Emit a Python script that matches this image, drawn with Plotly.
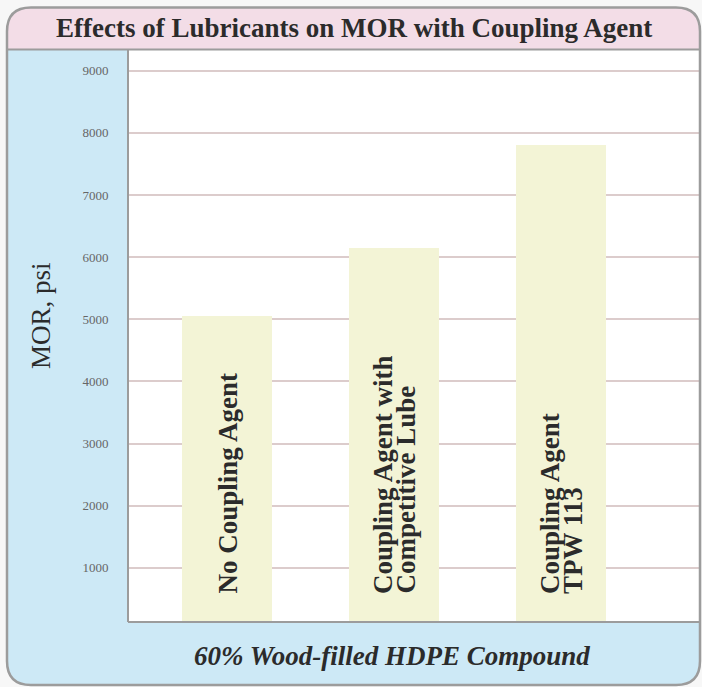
import plotly.graph_objects as go

# ---- data ----
categories = ["No Coupling Agent", "Coupling Agent with Competitive Lube", "Coupling Agent TPW 113"]
label_lines = [["No Coupling Agent"], ["Coupling Agent with", "Competitive Lube"], ["Coupling Agent", "TPW 113"]]
mor_values = [5050, 6150, 7800]
tick_values = [1000, 2000, 3000, 4000, 5000, 6000, 7000, 8000, 9000]
tick_labels = ["1000", "2000", "3000", "4000", "5000", "6000", "7000", "8000", "9000"]
chart_title = "Effects of Lubricants on MOR with Coupling Agent"
y_title = "MOR, psi"
x_title = "60% Wood-filled HDPE Compound"

# ---- geometry helpers (pixel -> paper) ----
W, H = 702, 687
ML, MR, MT, MB = 128, 2, 50, 65
PW = W - ML - MR
PH = H - MT - MB


def X(px):
    return (px - ML) / PW


def Y(py):
    return (H - MB - py) / PH


def pt(px, py):
    return f"{X(px):.5f},{Y(py):.5f}"


def rounded_rect(x0, y0, x1, y1, r):
    return (f"M {pt(x0 + r, y0)} L {pt(x1 - r, y0)} Q {pt(x1, y0)} {pt(x1, y0 + r)} "
            f"L {pt(x1, y1 - r)} Q {pt(x1, y1)} {pt(x1 - r, y1)} "
            f"L {pt(x0 + r, y1)} Q {pt(x0, y1)} {pt(x0, y1 - r)} "
            f"L {pt(x0, y0 + r)} Q {pt(x0, y0)} {pt(x0 + r, y0)} Z")


def top_band(x0, y0, x1, yb, r):
    return (f"M {pt(x0, yb)} L {pt(x0, y0 + r)} Q {pt(x0, y0)} {pt(x0 + r, y0)} "
            f"L {pt(x1 - r, y0)} Q {pt(x1, y0)} {pt(x1, y0 + r)} L {pt(x1, yb)} Z")


FX0, FY0, FX1, FY1, FR = 7, 7.5, 700, 685, 24
BAND_BOTTOM = 49.5
BLUE = "#cde9f6"
PINK = "#f3dde7"
FRAME = "#9c9c9c"
SERIF = "Liberation Serif, Times New Roman, serif"

fig = go.Figure()
fig.add_trace(go.Bar(
    x=categories, y=mor_values, width=0.54,
    marker=dict(color="#f3f4d6", line=dict(width=0)),
    hoverinfo="skip",
))

shapes = [
    dict(type="path", path=rounded_rect(FX0, FY0, FX1, FY1, FR), xref="paper", yref="paper",
         fillcolor=BLUE, line=dict(width=0), layer="below"),
    dict(type="path", path=top_band(FX0, FY0, FX1, BAND_BOTTOM, FR), xref="paper", yref="paper",
         fillcolor=PINK, line=dict(width=0), layer="below"),
    dict(type="rect", x0=0, x1=X(FX1), y0=0, y1=1, xref="paper", yref="paper",
         fillcolor="white", line=dict(width=0), layer="below"),
    dict(type="line", x0=X(FX0), x1=X(FX1), y0=Y(BAND_BOTTOM), y1=Y(BAND_BOTTOM), xref="paper", yref="paper",
         line=dict(color=FRAME, width=2), layer="above"),
    dict(type="line", x0=0, x1=0, y0=0, y1=1, xref="paper", yref="paper",
         line=dict(color=FRAME, width=2), layer="above"),
    dict(type="line", x0=0, x1=X(FX1), y0=0, y1=0, xref="paper", yref="paper",
         line=dict(color=FRAME, width=2), layer="above"),
    dict(type="path", path=rounded_rect(FX0, FY0, FX1, FY1, FR), xref="paper", yref="paper",
         fillcolor="rgba(0,0,0,0)", line=dict(color=FRAME, width=2.5), layer="above"),
]

annotations = [
    dict(text=f"<b>{chart_title}</b>", xref="paper", yref="paper", x=X(354), y=Y(28),
         xanchor="center", yanchor="middle", showarrow=False,
         font=dict(family=SERIF, size=27, color="#2b2b2b")),
    dict(text=y_title, xref="paper", yref="paper", x=X(41), y=Y(316), textangle=-90,
         xanchor="center", yanchor="middle", showarrow=False,
         font=dict(family=SERIF, size=27, color="#2b2b2b")),
    dict(text=f"<b><i>{x_title}</i></b>", xref="paper", yref="paper", x=X(392), y=Y(656),
         xanchor="center", yanchor="middle", showarrow=False,
         font=dict(family=SERIF, size=27, color="#2b2b2b")),
]

LINE_GAP = 23
for cat, lines in zip(categories, label_lines):
    n = len(lines)
    for i, line in enumerate(lines):
        annotations.append(dict(
            text=f"<b>{line}</b>", x=cat, xref="x", y=0, yref="paper",
            xanchor="center", yanchor="bottom", textangle=-90, showarrow=False,
            xshift=(i - (n - 1) / 2) * LINE_GAP, yshift=26,
            font=dict(family=SERIF, size=27, color="#2b2b2b"),
        ))

fig.update_layout(
    width=W, height=H,
    margin=dict(l=ML, r=MR, t=MT, b=MB, pad=0),
    paper_bgcolor="#f7f7f7", plot_bgcolor="white",
    showlegend=False,
    shapes=shapes, annotations=annotations,
    bargap=0,
)
fig.update_xaxes(type="category", range=[-0.593, 2.832], showticklabels=False,
                 showgrid=False, zeroline=False, showline=False, ticks="")
fig.update_yaxes(range=[130, 9333], tickvals=tick_values, ticktext=tick_labels,
                 showgrid=True, gridcolor="#dccccc", gridwidth=1.5, zeroline=False, showline=False,
                 ticks="outside", ticklen=16, tickcolor="rgba(0,0,0,0)",
                 tickfont=dict(family=SERIF, size=13, color="#666666"))

fig.write_html(
    "out.html",
    config={"displayModeBar": False},
    post_script="document.body.style.margin='0';document.body.style.overflow='hidden';",
)
